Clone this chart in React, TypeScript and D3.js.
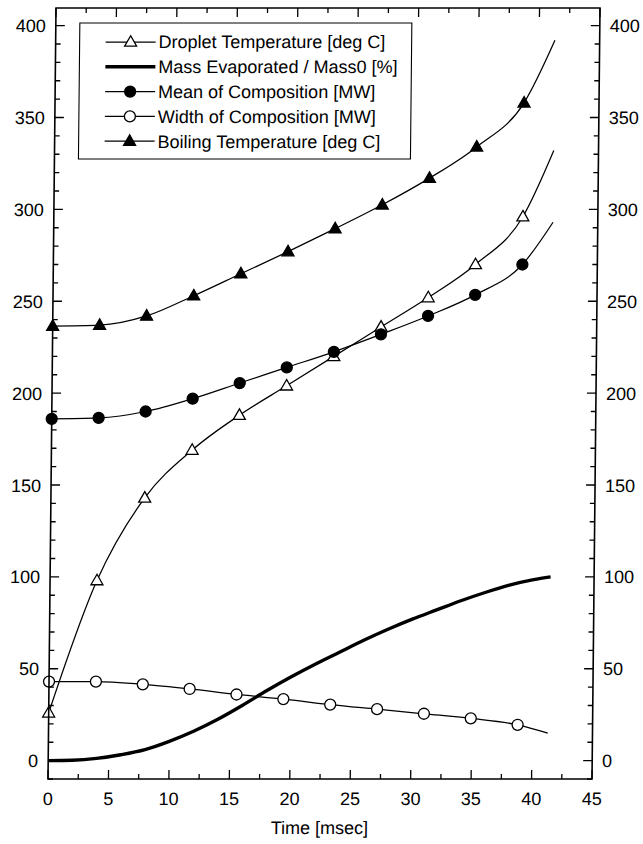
import React from "react";
import * as d3 from "d3";

// ---- data ----
const markerTimes = [0, 3.88, 7.76, 11.64, 15.52, 19.4, 23.28, 27.16, 31.04, 34.92, 38.8, 41.3];
const dropletTemp = [26, 98, 143, 169, 188, 204, 220, 236, 252, 270, 296, 332];
const meanComp = [186, 186.5, 190, 197, 205.5, 214, 222.5, 232, 242, 253.5, 270, 293];
const widthComp = [43, 43, 41.5, 39, 36, 33.5, 30.5, 28, 25.5, 23, 19.5, 15];
const boilingTemp = [236.5, 237, 242, 253, 265, 277, 289.5, 302.5, 317, 334, 358, 392];
const markerCount = 11; // last point of each series is the curve end without a marker

const massTimes = [0, 2, 4, 6, 8, 10, 12, 14, 16, 18, 20, 22, 24, 26, 28, 30, 32, 34, 36, 38, 40, 41.4];
const massValues = [0, 0.2, 1.2, 3.2, 6, 10.5, 16, 22.5, 30, 38, 45.5, 52.5, 59, 65.5, 71.5, 77, 82, 87, 91.5, 95.5, 98.5, 100];

const xTicksMajor = [0, 5, 10, 15, 20, 25, 30, 35, 40, 45];
const yTicksMajor = [0, 50, 100, 150, 200, 250, 300, 350, 400];

const legendLabels = [
  "Droplet Temperature [deg C]",
  "Mass Evaporated / Mass0 [%]",
  "Mean of Composition [MW]",
  "Width of Composition [MW]",
  "Boiling Temperature [deg C]",
];
const xAxisTitle = "Time [msec]";

// ---- layout ----
const W = 643;
const H = 844;
const FONT = "'Liberation Sans', Arial, sans-serif";

const x = d3.scaleLinear().domain([0, 45]).range([48, 592]);
const y = d3.scaleLinear().domain([-10, 409.6]).range([779, 8]);

type Kind = "openTri" | "filledTri" | "openCircle" | "filledCircle" | "none";

function Marker({ cx, cy, kind }: { cx: number; cy: number; kind: Kind }) {
  if (kind === "openTri" || kind === "filledTri") {
    const w = 12, h = 10.5;
    const d = `M${cx},${cy - h * 0.6} L${cx + w / 2},${cy + h * 0.4} L${cx - w / 2},${cy + h * 0.4} Z`;
    return <path d={d} fill={kind === "filledTri" ? "#000" : "#fff"} stroke="#000" strokeWidth={1.3} />;
  }
  if (kind === "openCircle" || kind === "filledCircle") {
    return <circle cx={cx} cy={cy} r={5.5} fill={kind === "filledCircle" ? "#000" : "#fff"} stroke="#000" strokeWidth={1.3} />;
  }
  return null;
}

export default function App() {
  const line = d3
    .line<[number, number]>()
    .x((d) => x(d[0]))
    .y((d) => y(d[1]))
    .curve(d3.curveMonotoneX);

  const series: { values: number[]; kind: Kind }[] = [
    { values: dropletTemp, kind: "openTri" },
    { values: meanComp, kind: "filledCircle" },
    { values: widthComp, kind: "openCircle" },
    { values: boilingTemp, kind: "filledTri" },
  ];

  const massPts: [number, number][] = massTimes.map((t, i) => [t, massValues[i]]);

  const xMinor = d3.range(0, 45.01, 2.5);
  const yMinor = d3.range(-10, 409, 10);

  const x0 = x.range()[0], x1 = x.range()[1];
  const yTop = y.range()[1], yBot = y.range()[0];

  // scanned page is slightly sheared: the top of the frame sits ~8px right of the bottom
  const shear = (Math.atan(-8 / 771) * 180) / Math.PI;

  const legendKinds: Kind[] = ["openTri", "none", "filledCircle", "openCircle", "filledTri"];
  const lgX0 = 72, lgX1 = 404, lgY0 = 23, lgY1 = 159;
  const rowY = (i: number) => 42 + i * 24.8;

  return (
    <svg width={W} height={H} style={{ display: "block", position: "absolute", left: 0, top: 0, background: "#fff" }}>
      <rect x={0} y={0} width={W} height={H} fill="#fff" />
      <g transform={`translate(0,${yBot}) skewX(${shear}) translate(0,${-yBot})`} fontFamily={FONT} fill="#000">
        {/* series lines */}
        {series.map((s, si) => (
          <path
            key={"l" + si}
            d={line(markerTimes.map((t, i) => [t, s.values[i]]) as [number, number][]) || ""}
            fill="none"
            stroke="#000"
            strokeWidth={1.25}
          />
        ))}
        <path d={line(massPts) || ""} fill="none" stroke="#000" strokeWidth={3.4} />
        {/* markers */}
        {series.map((s, si) =>
          s.values.slice(0, markerCount).map((v, i) => (
            <Marker key={`m${si}-${i}`} cx={x(markerTimes[i])} cy={y(v)} kind={s.kind} />
          ))
        )}

        {/* frame */}
        <rect x={x0} y={yTop} width={x1 - x0} height={yBot - yTop} fill="none" stroke="#000" strokeWidth={1.6} />

        {/* x ticks (bottom and top) */}
        {xMinor.map((t) => {
          const major = Math.abs(t / 5 - Math.round(t / 5)) < 1e-6;
          const len = major ? 9 : 5;
          return (
            <g key={"xt" + t}>
              <line x1={x(t)} x2={x(t)} y1={yBot} y2={yBot - len} stroke="#000" strokeWidth={1.3} />
              <line x1={x(t)} x2={x(t)} y1={yTop} y2={yTop + len} stroke="#000" strokeWidth={1.3} />
            </g>
          );
        })}
        {/* y ticks (left and right) */}
        {yMinor.map((v) => {
          const major = v % 50 === 0;
          const len = major ? 9 : 5;
          return (
            <g key={"yt" + v}>
              <line x1={x0} x2={x0 + len} y1={y(v)} y2={y(v)} stroke="#000" strokeWidth={1.3} />
              <line x1={x1} x2={x1 - len} y1={y(v)} y2={y(v)} stroke="#000" strokeWidth={1.3} />
            </g>
          );
        })}

        {/* tick labels */}
        {xTicksMajor.map((t) => (
          <text key={"xl" + t} x={x(t)} y={805} fontSize={18} textAnchor="middle">
            {t}
          </text>
        ))}
        {yTicksMajor.map((v) => (
          <g key={"yl" + v}>
            <text x={x0 - 10} y={y(v) + 6.5} fontSize={18} textAnchor="end">
              {v}
            </text>
            <text x={x1 + 10} y={y(v) + 6.5} fontSize={18} textAnchor="start">
              {v}
            </text>
          </g>
        ))}
        <text x={(x0 + x1) / 2} y={834} fontSize={18} textAnchor="middle">
          {xAxisTitle}
        </text>

        {/* legend */}
        <rect x={lgX0} y={lgY0} width={lgX1 - lgX0} height={lgY1 - lgY0} fill="#fff" stroke="#000" strokeWidth={1.1} />
        {legendLabels.map((lab, i) => (
          <g key={"lg" + i}>
            <line
              x1={98}
              x2={148}
              y1={rowY(i)}
              y2={rowY(i)}
              stroke="#000"
              strokeWidth={legendKinds[i] === "none" ? 3.4 : 1.25}
            />
            <Marker cx={123} cy={rowY(i)} kind={legendKinds[i]} />
            <text x={151} y={rowY(i) + 6.5} fontSize={18}>
              {lab}
            </text>
          </g>
        ))}
      </g>
    </svg>
  );
}
